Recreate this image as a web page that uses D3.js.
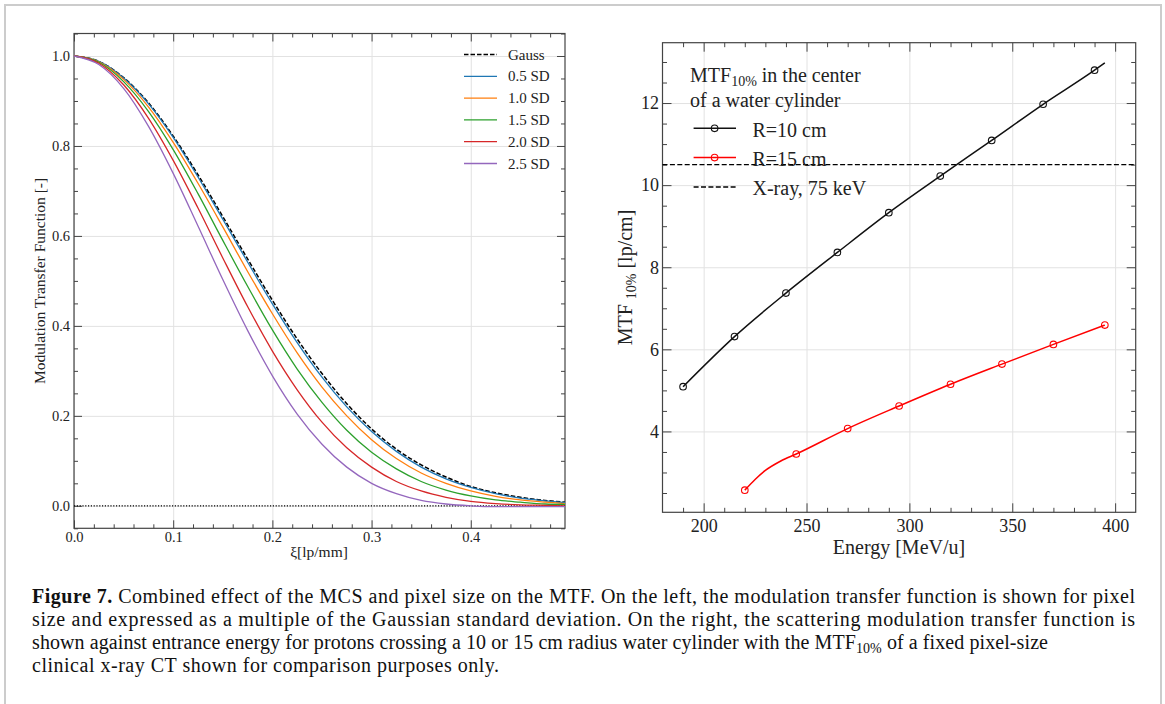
<!DOCTYPE html>
<html>
<head>
<meta charset="utf-8">
<title>Figure 7</title>
<script src="https://cdnjs.cloudflare.com/ajax/libs/d3/7.8.5/d3.min.js"></script>
<style>
    body { margin: 0; background: white; }
    svg text { font-family: "Liberation Serif", "Times New Roman", serif; fill: #222; }
    .grid line { stroke: #e2e2e2; stroke-width: 1; }
    .grid path, .ax path { display: none; }
    .ax line { stroke: #444; }
</style>
</head>
<body>
<svg id="fig" width="1165" height="704"></svg>
<script>

// ---- left panel: MTF vs spatial frequency
var xi     = [0, 0.025, 0.05, 0.075, 0.1, 0.125, 0.15, 0.175, 0.2, 0.225, 0.25, 0.275, 0.3, 0.325, 0.35, 0.375, 0.4, 0.425, 0.45, 0.475, 0.495]
var gauss  = [1, 0.988, 0.952, 0.896, 0.822, 0.736, 0.643, 0.549, 0.457, 0.371, 0.294, 0.227, 0.171, 0.126, 0.091, 0.064, 0.043, 0.029, 0.019, 0.012, 0.008]
var sd05   = [1, 0.988, 0.951, 0.894, 0.819, 0.731, 0.637, 0.542, 0.449, 0.363, 0.286, 0.220, 0.165, 0.121, 0.086, 0.060, 0.041, 0.027, 0.017, 0.011, 0.007]
var sd10   = [1, 0.987, 0.948, 0.887, 0.808, 0.717, 0.620, 0.521, 0.427, 0.340, 0.264, 0.200, 0.147, 0.105, 0.073, 0.050, 0.033, 0.021, 0.013, 0.008, 0.005]
var sd15   = [1, 0.986, 0.943, 0.877, 0.792, 0.694, 0.590, 0.488, 0.391, 0.304, 0.230, 0.168, 0.119, 0.082, 0.054, 0.035, 0.022, 0.013, 0.008, 0.004, 0.003]
var sd20   = [1, 0.984, 0.936, 0.862, 0.768, 0.662, 0.551, 0.443, 0.344, 0.258, 0.186, 0.129, 0.086, 0.054, 0.033, 0.019, 0.010, 0.005, 0.002, 0.001, 0.000]
var sd25   = [1, 0.981, 0.928, 0.844, 0.739, 0.622, 0.503, 0.390, 0.289, 0.204, 0.137, 0.086, 0.050, 0.027, 0.012, 0.004, 0.000, -0.002, -0.002, -0.002, -0.002]
var leftNames  = ["Gauss", "0.5 SD", "1.0 SD", "1.5 SD", "2.0 SD", "2.5 SD"]
var leftColors = ["#000000", "#1f77b4", "#ff7f0e", "#2ca02c", "#d62728", "#9467bd"]
var leftXTicks = [0, 0.1, 0.2, 0.3, 0.4]
var leftYTicks = [0, 0.2, 0.4, 0.6, 0.8, 1.0]

// ---- right panel: MTF10% vs energy
var r10Energy = [190, 215, 240, 265, 290, 315, 340, 365, 390]
var r10Mtf    = [5.09, 6.31, 7.37, 8.36, 9.33, 10.22, 11.09, 11.97, 12.80]
var r10CurveE = [190, 215, 240, 265, 290, 315, 340, 365, 390, 395]
var r10CurveV = [5.09, 6.31, 7.37, 8.36, 9.33, 10.22, 11.09, 11.97, 12.80, 12.98]
var r15Energy = [220, 245, 270, 295, 320, 345, 370, 395]
var r15Mtf    = [2.57, 3.45, 4.07, 4.62, 5.15, 5.64, 6.12, 6.59]
var r15CurveE = [220, 225, 230, 237.5, 245, 270, 295, 320, 345, 370, 395]
var r15CurveV = [2.57, 2.83, 3.05, 3.28, 3.45, 4.07, 4.62, 5.15, 5.64, 6.12, 6.59]
var xrayMtf = 10.5
var rightXTicks = [200, 250, 300, 350, 400]
var rightYTicks = [4, 6, 8, 10, 12]

var captionLines = [
    [["Figure 7.", "b"], [" Combined effect of the MCS and pixel size on the MTF. On the left, the modulation transfer function is shown for pixel", ""]],
    [["size and expressed as a multiple of the Gaussian standard deviation. On the right, the scattering modulation transfer function is", ""]],
    [["shown against entrance energy for protons crossing a 10 or 15 cm radius water cylinder with the MTF", ""], ["10%", "sub"], [" of a fixed pixel-size", ""]],
    [["clinical x-ray CT shown for comparison purposes only.", ""]]
]
var captionWidths = [1103, 1103, 1016, 467]

var svg = d3.select("#fig")

// page frame
svg.append("rect").attr("x", 5).attr("y", 5).attr("width", 1156).attr("height", 720)
    .attr("fill", "none").attr("stroke", "#cccccc").attr("stroke-width", 2)

function drawFrame(x, y, o) {
    var g = svg.append("g")
    var x0 = x.range()[0], x1 = x.range()[1], y0 = y.range()[1], y1 = y.range()[0]
    var w = x1 - x0, h = y1 - y0

    g.append("g").attr("class", "grid").attr("transform", "translate(0," + y1 + ")")
        .call(d3.axisBottom(x).tickValues(o.xTicks).tickSize(-h).tickFormat(""))
    g.append("g").attr("class", "grid").attr("transform", "translate(" + x0 + ",0)")
        .call(d3.axisLeft(y).tickValues(o.yTicks).tickSize(-w).tickFormat(""))

    // major + minor ticks, inward, on all four sides
    var sides = [
        [() => d3.axisBottom(x), "translate(0," + y1 + ")", o.xTicks, o.xMinor, o.xFmt, o.padX],
        [() => d3.axisTop(x), "translate(0," + y0 + ")", o.xTicks, o.xMinor, null, 0],
        [() => d3.axisLeft(y), "translate(" + x0 + ",0)", o.yTicks, o.yMinor, o.yFmt, o.padY],
        [() => d3.axisRight(y), "translate(" + x1 + ",0)", o.yTicks, o.yMinor, null, 0]
    ]
    sides.forEach(function(s) {
        var major = s[0]().tickValues(s[2]).tickSizeInner(-o.major).tickSizeOuter(0)
            .tickPadding(s[5]).tickFormat(s[4] ? s[4] : "")
        var a = g.append("g").attr("class", "ax").attr("transform", s[1]).call(major)
        a.selectAll("text").style("font-size", o.tickFont + "px").attr("fill", "#333")
        var minor = s[0]().tickValues(s[3]).tickSizeInner(-o.minor).tickSizeOuter(0).tickFormat("")
        g.append("g").attr("class", "ax").attr("transform", s[1]).call(minor)
    })

    g.append("rect").attr("x", x0).attr("y", y0).attr("width", w).attr("height", h)
        .attr("fill", "none").attr("stroke", "#444").attr("stroke-width", 1.2)
}

function notMajor(vals, step) {
    return vals.filter(function(v) { return Math.abs(v / step - Math.round(v / step)) > 1e-6 })
}

// ================= LEFT =================
var xL = d3.scaleLinear().domain([0, 0.495]).range([74, 565])
var yL = d3.scaleLinear().domain([-0.05, 1.05]).range([528.3, 33.5])

svg.append("clipPath").attr("id", "clipL").append("rect")
    .attr("x", 74).attr("y", 33.5).attr("width", 491).attr("height", 494.8)

drawFrame(xL, yL, {
    xTicks: leftXTicks, yTicks: leftYTicks,
    xMinor: notMajor(d3.range(0.02, 0.495, 0.02), 0.1),
    yMinor: notMajor(d3.range(-0.05, 1.06, 0.05), 0.2),
    xFmt: d3.format(".1f"), yFmt: d3.format(".1f"),
    padX: 3.5, padY: 4, major: 8, minor: 4, tickFont: 14.5
})

var lineL = d3.line().x(d => xL(d[0])).y(d => yL(d[1])).curve(d3.curveMonotoneX)
var leftSeries = [gauss, sd05, sd10, sd15, sd20, sd25]

var plotL = svg.append("g").attr("clip-path", "url(#clipL)")
// dotted zero line
plotL.append("line").attr("x1", xL(0)).attr("x2", xL(0.495)).attr("y1", yL(0)).attr("y2", yL(0))
    .attr("stroke", "#000").attr("stroke-width", 1.3).attr("stroke-dasharray", "1.2,1.6")

leftSeries.forEach(function(vals, i) {
    plotL.append("path")
        .datum(xi.map((x, j) => [x, vals[j]]))
        .attr("d", lineL)
        .attr("fill", "none")
        .attr("stroke", leftColors[i])
        .attr("stroke-width", i == 0 ? 1.5 : 1.3)
        .attr("stroke-dasharray", i == 0 ? "4.5,2" : null)
})

// legend
leftNames.forEach(function(n, i) {
    var ly = 54.5 + i * 21.8
    svg.append("line").attr("x1", 464).attr("x2", 497).attr("y1", ly).attr("y2", ly)
        .attr("stroke", leftColors[i]).attr("stroke-width", i == 0 ? 1.5 : 1.3)
        .attr("stroke-dasharray", i == 0 ? "4.5,2" : null)
    svg.append("text").attr("x", 508).attr("y", ly + 5).style("font-size", "15px").text(n)
})

svg.append("text").attr("transform", "translate(45,281) rotate(-90)")
    .attr("text-anchor", "middle").style("font-size", "15.5px")
    .text("Modulation Transfer Function [-]")
svg.append("text").attr("x", 319).attr("y", 557).attr("text-anchor", "middle")
    .style("font-size", "15.5px").text("ξ[lp/mm]")

// ================= RIGHT =================
var xR = d3.scaleLinear().domain([180, 410]).range([662.5, 1135.7])
var yR = d3.scaleLinear().domain([2.03, 13.47]).range([512.3, 42.7])

drawFrame(xR, yR, {
    xTicks: rightXTicks, yTicks: rightYTicks,
    xMinor: notMajor(d3.range(190, 410, 10), 50),
    yMinor: notMajor(d3.range(2.5, 13.5, 0.5), 2),
    xFmt: d3.format("d"), yFmt: d3.format("d"),
    padX: 7, padY: 3.5, major: 9, minor: 4.5, tickFont: 18
})

var lineR = d3.line().x(d => xR(d[0])).y(d => yR(d[1])).curve(d3.curveMonotoneX)

svg.append("line").attr("x1", xR(180)).attr("x2", xR(410)).attr("y1", yR(xrayMtf)).attr("y2", yR(xrayMtf))
    .attr("stroke", "#000").attr("stroke-width", 1.4).attr("stroke-dasharray", "5,2.4")

var rightSets = [
    [r10CurveE, r10CurveV, r10Energy, r10Mtf, "#111111"],
    [r15CurveE, r15CurveV, r15Energy, r15Mtf, "#ff0000"]
]
rightSets.forEach(function(s) {
    svg.append("path")
        .datum(s[0].map((e, j) => [e, s[1][j]]))
        .attr("d", lineR)
        .attr("fill", "none").attr("stroke", s[4]).attr("stroke-width", 1.5)
    svg.selectAll(null)
        .data(s[2].map((e, j) => [e, s[3][j]]))
        .enter().append("circle")
        .attr("cx", d => xR(d[0])).attr("cy", d => yR(d[1])).attr("r", 3.3)
        .attr("fill", "none").attr("stroke", s[4]).attr("stroke-width", 1.1)
})

// legend (no box)
var lg = svg.append("g").style("font-size", "20px")
var t1 = lg.append("text").attr("x", 690).attr("y", 82)
t1.append("tspan").text("MTF")
t1.append("tspan").attr("dy", 4).style("font-size", "14px").text("10%")
t1.append("tspan").attr("dy", -4).text(" in the center")
lg.append("text").attr("x", 690).attr("y", 107).text("of a water cylinder")

var legendRows = [["R=10 cm", "#111111", true, null], ["R=15 cm", "#ff0000", true, null], ["X-ray, 75 keV", "#000", false, "5,2.4"]]
legendRows.forEach(function(r, i) {
    var ly = 128.3 + i * 29.3
    lg.append("line").attr("x1", 693.6).attr("x2", 736).attr("y1", ly).attr("y2", ly)
        .attr("stroke", r[1]).attr("stroke-width", 1.5).attr("stroke-dasharray", r[3])
    if (r[2]) lg.append("circle").attr("cx", 714.6).attr("cy", ly).attr("r", 3.3)
        .attr("fill", "none").attr("stroke", r[1]).attr("stroke-width", 1.1)
    lg.append("text").attr("x", 752.5).attr("y", ly + 8.3).text(r[0])
})

var yl = svg.append("text").attr("transform", "translate(632,277.5) rotate(-90)")
    .attr("text-anchor", "middle").style("font-size", "20px")
yl.append("tspan").text("MTF ")
yl.append("tspan").attr("dy", 4).style("font-size", "14px").text("10%")
yl.append("tspan").attr("dy", -4).text(" [lp/cm]")

svg.append("text").attr("x", 899).attr("y", 554).attr("text-anchor", "middle")
    .style("font-size", "20px").text("Energy [MeV/u]")

// ================= CAPTION =================
captionLines.forEach(function(parts, i) {
    var t = svg.append("text").attr("x", 32).attr("y", 602.7 + i * 23.1)
        .style("font-size", "20px").style("fill", "#111")
        .attr("textLength", captionWidths[i]).attr("lengthAdjust", "spacing")
    var shifted = false
    parts.forEach(function(p) {
        var ts = t.append("tspan").text(p[0])
        if (p[1] == "b") ts.style("font-weight", "bold")
        if (p[1] == "sub") { ts.attr("dy", 4).style("font-size", "14px"); shifted = true }
        else if (shifted) { ts.attr("dy", -4); shifted = false }
    })
})

</script>
</body>
</html>
